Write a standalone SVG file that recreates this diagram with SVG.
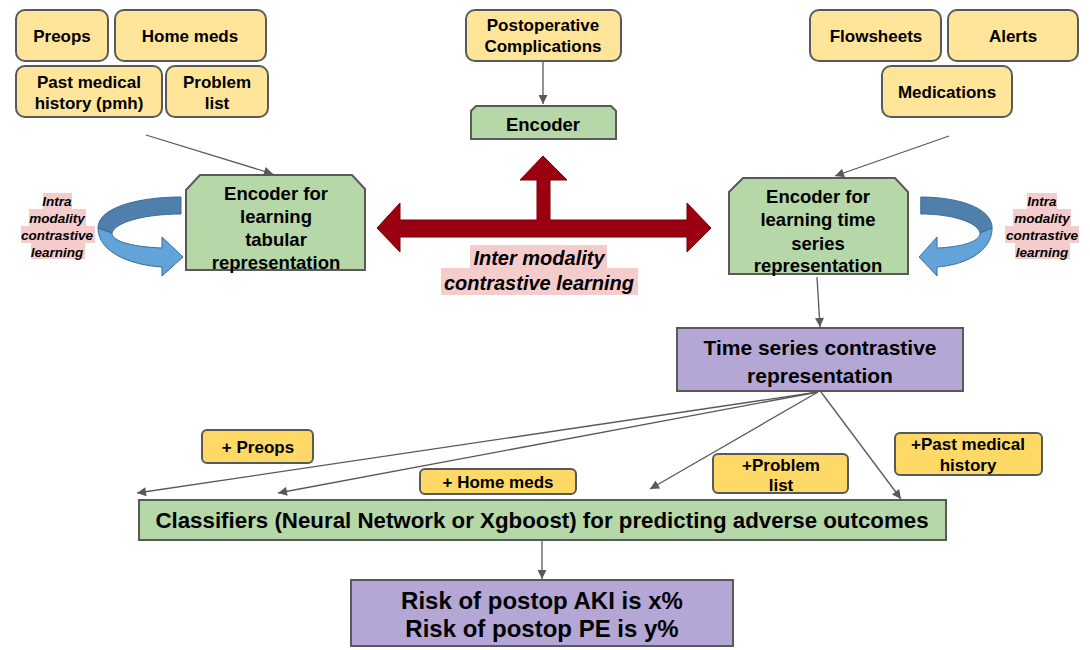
<svg xmlns="http://www.w3.org/2000/svg" width="1090" height="650" viewBox="0 0 1090 650">
<defs>
<style>
text{font-family:"Liberation Sans",Arial,sans-serif;font-weight:bold;fill:#000;text-anchor:middle}
.in{fill:#ffe599;stroke:#595959;stroke-width:2}
.pl{fill:#ffd966;stroke:#595959;stroke-width:2}
.gr{fill:#b6d7a8;stroke:#595959;stroke-width:2}
.pu{fill:#b4a7d6;stroke:#595959;stroke-width:2}
.t17{font-size:17px}
.t18{font-size:18.5px}
.t21{font-size:21px}
.t22{font-size:22.3px}
.t24{font-size:24px}
.it{font-style:italic;font-size:13.5px}
.it20{font-style:italic;font-size:20px}
.pk{fill:#f4cccc}
.cn{stroke:#595959;stroke-width:1.3;fill:none;marker-end:url(#ah)}
.dk{fill:#4e80ab;stroke:#3a6a95;stroke-width:1}
.lt{fill:#62a3d9;stroke:#3a6a95;stroke-width:1}
</style>
<marker id="ah" viewBox="0 0 10 10" refX="10" refY="5" markerWidth="11" markerHeight="9" markerUnits="userSpaceOnUse" orient="auto"><path d="M0,0 L10,5 L0,10 z" fill="#595959"/></marker>
<g id="curl">
<path class="dk" d="M181,197 C140,197 98,207 98,228 L112,233 C115,222 145,214 181,214 Z"/>
<path class="lt" d="M98,228 C98,252 130,265 162,267 L162,276 L183,257 L162,237 L162,248 C135,247 112,242 112,233 Z"/>
</g>
</defs>
<rect width="1090" height="650" fill="#fff"/>

<g id="connectors">
<line class="cn" x1="146" y1="135" x2="273" y2="174"/>
<line class="cn" x1="949" y1="136" x2="835" y2="176"/>
<line class="cn" x1="543" y1="62" x2="543" y2="104"/>
<line class="cn" x1="817" y1="277" x2="820" y2="327"/>
<line class="cn" x1="818" y1="392" x2="137" y2="493"/>
<line class="cn" x1="818" y1="392" x2="278" y2="493"/>
<line class="cn" x1="818" y1="392" x2="650" y2="489"/>
<line class="cn" x1="821" y1="392" x2="901" y2="499"/>
<line class="cn" x1="542" y1="541" x2="542" y2="579"/>
</g>

<g id="preops"><rect class="in" x="16" y="10" width="92" height="51" rx="9"/><text class="t17" x="62" y="42">Preops</text></g>
<g id="homemeds"><rect class="in" x="115" y="10" width="151" height="51" rx="9"/><text class="t17" x="190" y="42">Home meds</text></g>
<g id="pmh"><rect class="in" x="16" y="66" width="146" height="51" rx="9"/><text class="t17" x="89" y="88">Past medical</text><text class="t17" x="89" y="109">history (pmh)</text></g>
<g id="problemlist"><rect class="in" x="166" y="66" width="102" height="51" rx="9"/><text class="t17" x="217" y="88">Problem</text><text class="t17" x="217" y="109">list</text></g>

<g id="postop"><rect class="in" x="466" y="10" width="155" height="51" rx="9"/><text class="t17" x="543" y="31">Postoperative</text><text class="t17" x="543" y="52">Complications</text></g>
<g id="encoder"><path class="gr" d="M476,106 L611,106 L616,111 L616,139 L471,139 L471,111 Z"/><text class="t18" x="543" y="131">Encoder</text></g>

<g id="flowsheets"><rect class="in" x="810" y="10" width="131" height="51" rx="9"/><text class="t17" x="876" y="42">Flowsheets</text></g>
<g id="alerts"><rect class="in" x="948" y="10" width="130" height="51" rx="9"/><text class="t17" x="1013" y="42">Alerts</text></g>
<g id="medications"><rect class="in" x="882" y="66" width="130" height="51" rx="9"/><text class="t17" x="947" y="98">Medications</text></g>

<g id="enc-tabular"><path class="gr" d="M200,175 L352,175 L365,189 L365,270 L186,270 L186,190 Z"/>
<text class="t18" x="276" y="199.5">Encoder for</text><text class="t18" x="276" y="222.5">learning</text><text class="t18" x="276" y="245.5">tabular</text><text class="t18" x="276" y="268.5">representation</text></g>

<g id="enc-timeseries"><path class="gr" d="M743,178 L895,178 L908,192 L908,274 L729,274 L729,192 Z"/>
<text class="t18" x="818" y="202.5">Encoder for</text><text class="t18" x="818" y="225.5">learning time</text><text class="t18" x="818" y="249.5">series</text><text class="t18" x="818" y="271.5">representation</text></g>

<g id="intra-left">
<use href="#curl"/>
<rect class="pk" x="43" y="193" width="29" height="16"/><rect class="pk" x="29" y="209" width="57" height="17"/><rect class="pk" x="21" y="226" width="74" height="17"/><rect class="pk" x="31" y="243" width="54" height="16"/>
<text class="it" x="57" y="206">Intra</text><text class="it" x="57" y="223">modality</text><text class="it" x="57" y="240">contrastive</text><text class="it" x="57" y="257">learning</text>
</g>

<g id="intra-right">
<use href="#curl" transform="matrix(-0.86,0,0,1,1076.4,0)"/>
<rect class="pk" x="1027" y="193" width="30" height="16"/><rect class="pk" x="1013" y="209" width="58" height="17"/><rect class="pk" x="1005" y="226" width="74" height="17"/><rect class="pk" x="1015" y="243" width="55" height="16"/>
<text class="it" x="1042" y="206">Intra</text><text class="it" x="1042" y="223">modality</text><text class="it" x="1042" y="240">contrastive</text><text class="it" x="1042" y="257">learning</text>
</g>

<g id="inter-modality">
<polygon fill="#9b0010" stroke="#7a0000" stroke-width="1" points="377,228 400,203 400,220 537,220 537,180 520,180 543,156 567,180 550,180 550,220 687,220 687,203 711,228 687,252 687,237 400,237 400,252"/>
<rect class="pk" x="470" y="245" width="137" height="23"/><rect class="pk" x="441" y="268" width="197" height="27"/>
<text class="it20" x="539" y="265">Inter modality</text><text class="it20" x="539" y="290">contrastive learning</text>
</g>

<g id="ts-rep"><rect class="pu" x="677" y="328" width="286" height="63"/><text class="t21" x="820" y="354.5">Time series contrastive</text><text class="t21" x="820" y="382.5">representation</text></g>

<g id="plus-preops"><rect class="pl" x="202" y="430" width="111" height="33" rx="5"/><text class="t17" x="258" y="453">+ Preops</text></g>
<g id="plus-homemeds"><rect class="pl" x="420" y="469" width="156" height="25" rx="5"/><text class="t17" x="498" y="488">+ Home meds</text></g>
<g id="plus-problem"><rect class="pl" x="713" y="454" width="135" height="39" rx="5"/><text class="t17" x="781" y="471">+Problem</text><text class="t17" x="781" y="491">list</text></g>
<g id="plus-pmh"><rect class="pl" x="895" y="433" width="147" height="42" rx="5"/><text class="t17" x="968" y="450">+Past medical</text><text class="t17" x="968" y="471">history</text></g>

<g id="classifiers"><rect class="gr" x="139" y="500" width="807" height="40"/><text class="t22" x="542" y="528">Classifiers (Neural Network or Xgboost) for predicting adverse outcomes</text></g>

<g id="risk"><rect class="pu" x="351" y="580" width="382" height="66"/><text class="t24" x="542" y="608.5">Risk of postop AKI is x%</text><text class="t24" x="542" y="636.5">Risk of postop PE is y%</text></g>
</svg>
